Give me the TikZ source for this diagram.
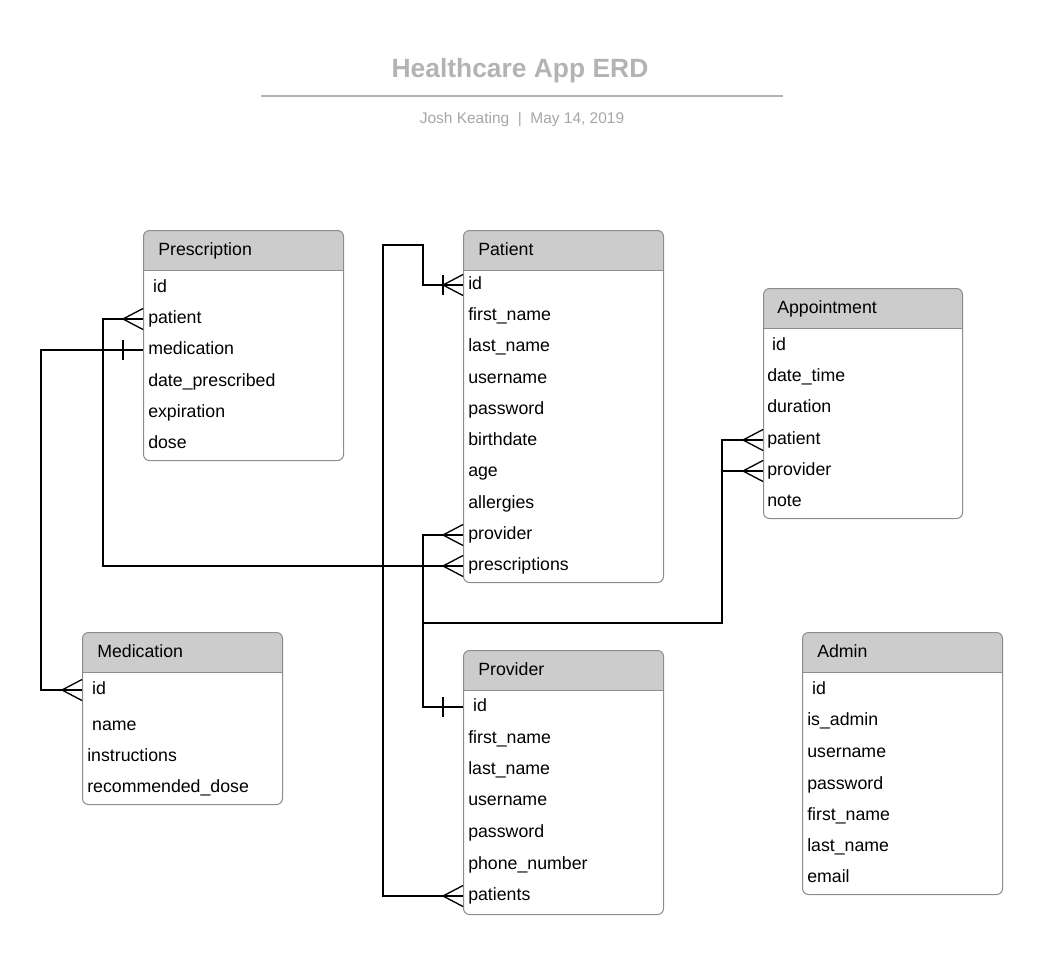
\documentclass[tikz,border=0pt]{standalone}
\usepackage{fontspec}
\setmainfont{Liberation Sans}
\usetikzlibrary{positioning}
\definecolor{hdrgray}{HTML}{CCCCCC}
\definecolor{boxgray}{HTML}{8C8C8C}
\definecolor{titlegray}{HTML}{B3B3B3}
\definecolor{subgray}{HTML}{A6A6A6}
\tikzset{
  entity/.style={draw=boxgray, line width=0.75pt, fill=white, rounded corners=4.5pt,
    anchor=north west, inner sep=0pt, minimum width=150pt,
    path picture={
      \fill[hdrgray, sharp corners] (path picture bounding box.north west) rectangle ([yshift=-30pt]path picture bounding box.north east);
      \draw[boxgray, line width=0.75pt, sharp corners] ([yshift=-30pt]path picture bounding box.north west) -- ([yshift=-30pt]path picture bounding box.north east);
    }},
  hdr/.style={anchor=west, inner sep=0pt, text height=9pt, text depth=3pt},
  field/.style={anchor=west, inner sep=0pt, text height=9pt, text depth=3pt},
  rel/.style={line width=1pt},
  crowfoot/.pic={\draw[rel] (-20,0) -- (0,-10.5) (-20,0) -- (0,10.5);},
  onebar/.pic={\draw[rel] (-20,-10) -- (-20,10);}
}
\begin{document}
\begin{tikzpicture}[x=0.75pt, y=-0.75pt, font=\fontsize{13.3}{16}\selectfont]
  \useasboundingbox (0,0) rectangle (1042,954);

  % title block
  \node[font=\fontsize{19.8}{24}\selectfont\bfseries, text=titlegray] (title) at (520,71) {Healthcare App ERD};
  \draw[titlegray, line width=1.5pt] (261,96) -- (783,96);
  \node[font=\fontsize{11.6}{14}\selectfont, text=subgray] (byline) at (522,120) {Josh Keating\ \ |\ \ May 14, 2019};

  % Prescription
  \node[entity, minimum height=172.5pt] (presc) at (143,230) {};
  \node[hdr] (presc-h) at (158,251) {Prescription};
  \foreach \y/\t [count=\i] in {288/\ id, 319/patient, 350/medication, 382/date\_prescribed, 413/expiration, 444/dose}
    \node[field] (presc-\i) at (148,\y) {\t};

  % Patient
  \node[entity, minimum height=264pt] (patient) at (463,230) {};
  \node[hdr] (patient-h) at (478,251) {Patient};
  \foreach \y/\t [count=\i] in {285/id, 316/first\_name, 347/last\_name, 379/username, 410/password,
      441/birthdate, 472/age, 504/allergies, 535/provider, 566/prescriptions}
    \node[field] (patient-\i) at (468,\y) {\t};

  % Appointment
  \node[entity, minimum height=172.5pt, minimum width=149.25pt] (appt) at (763,288) {};
  \node[hdr] (appt-h) at (777,309) {Appointment};
  \foreach \y/\t [count=\i] in {346/\ id, 377/date\_time, 408/duration, 440/patient, 471/provider, 502/note}
    \node[field] (appt-\i) at (767,\y) {\t};

  % Medication
  \node[entity, minimum height=129pt] (medic) at (82,632) {};
  \node[hdr] (medic-h) at (97,653) {Medication};
  \foreach \y/\t [count=\i] in {690/\ id, 726/\ name, 757/instructions, 788/recommended\_dose}
    \node[field] (medic-\i) at (87,\y) {\t};

  % Provider
  \node[entity, minimum height=198pt] (provider) at (463,650) {};
  \node[hdr] (provider-h) at (478,671) {Provider};
  \foreach \y/\t [count=\i] in {707/\ id, 739/first\_name, 770/last\_name, 801/username, 833/password,
      865/phone\_number, 896/patients}
    \node[field] (provider-\i) at (468,\y) {\t};

  % Admin
  \node[entity, minimum height=196.5pt] (admin) at (802,632) {};
  \node[hdr] (admin-h) at (817,653) {Admin};
  \foreach \y/\t [count=\i] in {690/\ id, 721/is\_admin, 753/username, 785/password, 816/first\_name,
      847/last\_name, 878/email}
    \node[field] (admin-\i) at (807,\y) {\t};

  % relations
  \coordinate (loopL) at (383,245);
  \coordinate (loopR) at (423,245);
  \coordinate (apptJ) at (722,623);
  \coordinate (prescL) at (103,320);
  \coordinate (medL) at (41,351);

  \draw[rel] (provider-7 -| provider.west) -| (loopL) -- (loopR) |- (patient-1 -| patient.west);
  \draw[rel] (patient-9 -| patient.west) -| (loopR |- provider-1) -- (provider-1 -| provider.west);
  \draw[rel] (appt-4 -| appt.west) -| (apptJ) -- (loopR |- apptJ);
  \draw[rel] (appt-5 -| appt.west) -- (apptJ |- appt-5);
  \draw[rel] (presc-2 -| presc.west) -| (prescL |- patient-10) -- (patient-10 -| patient.west);
  \draw[rel] (presc-3 -| presc.west) -| (medL |- medic-1) -- (medic-1 -| medic.west);

  \foreach \n/\b in {patient-1/patient, provider-7/provider, patient-9/patient, appt-4/appt,
      appt-5/appt, presc-2/presc, patient-10/patient, medic-1/medic}
    \pic at (\n -| \b.west) {crowfoot};
  \foreach \n/\b in {patient-1/patient, provider-1/provider, presc-3/presc}
    \pic at (\n -| \b.west) {onebar};
\end{tikzpicture}
\end{document}
